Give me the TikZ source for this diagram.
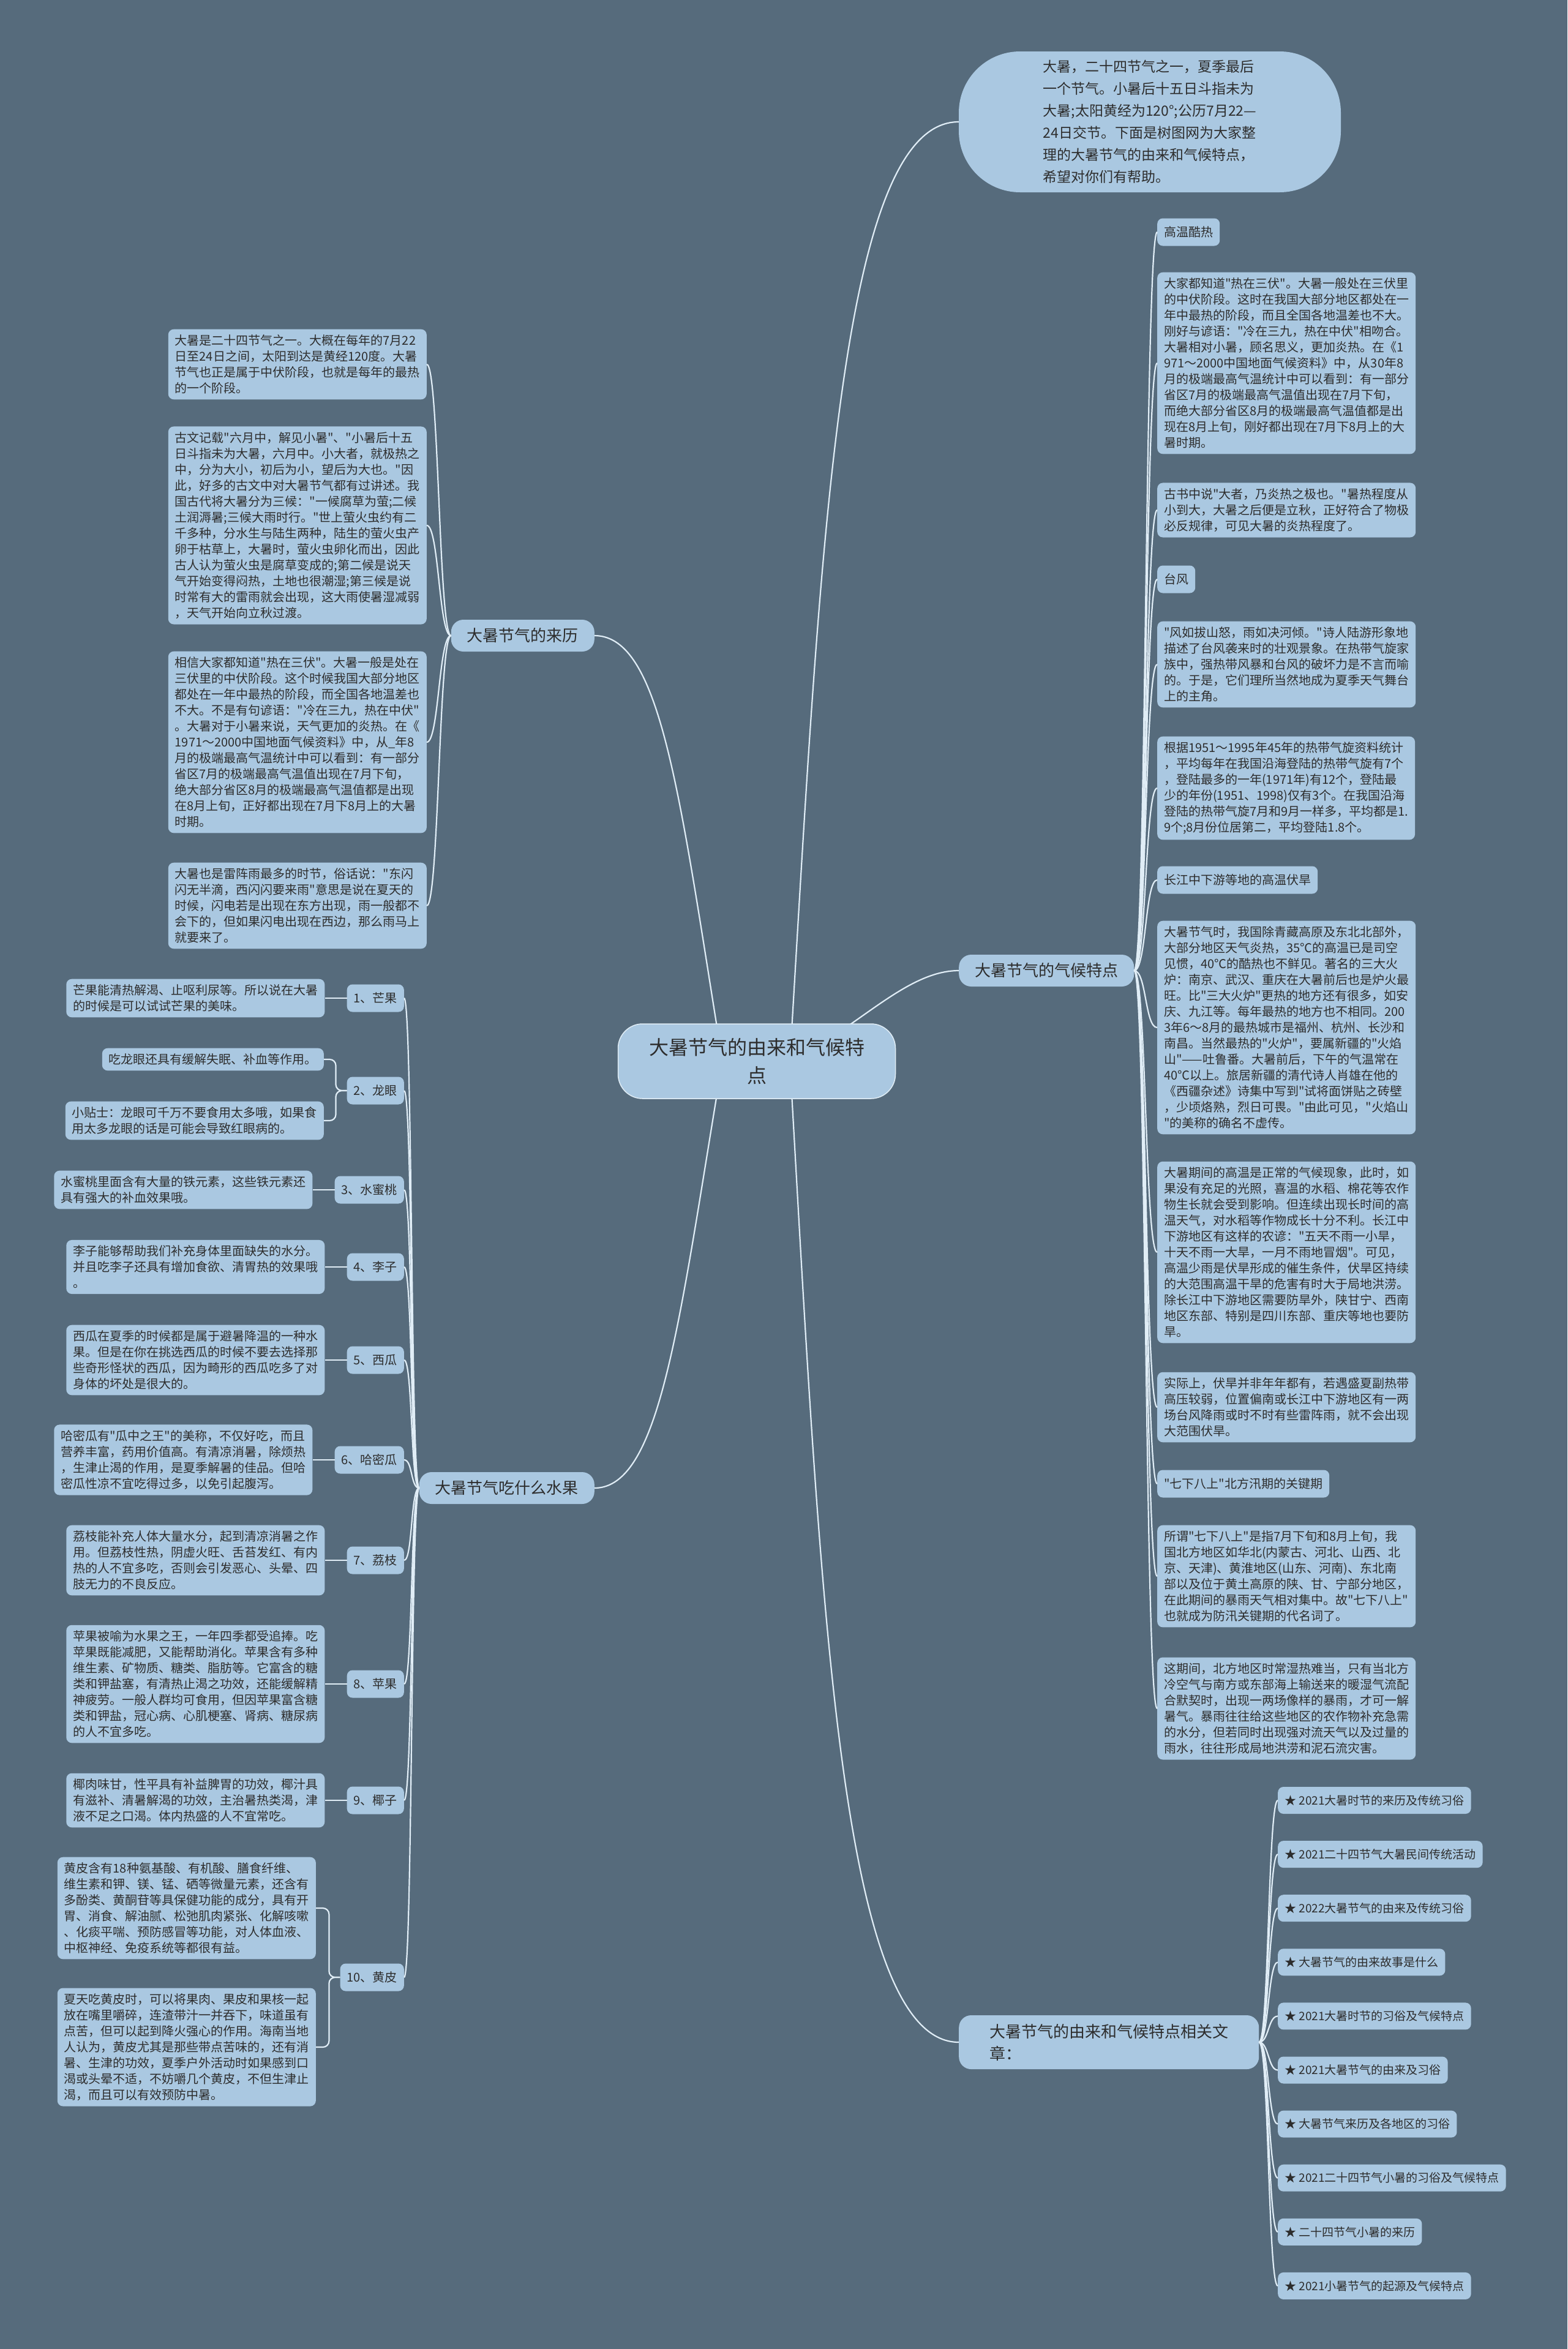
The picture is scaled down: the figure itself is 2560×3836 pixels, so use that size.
\documentclass[tikz,border=0pt]{standalone}
\usepackage{fontspec}
\setmainfont{Noto Sans CJK SC}[Ligatures=TeXOff]
\usetikzlibrary{positioning}
\definecolor{slateBg}{RGB}{86,107,124}
\definecolor{paleBlue}{RGB}{170,200,225}
\definecolor{inkGray}{RGB}{45,45,45}
\definecolor{linkWhite}{RGB}{224,237,246}

\begin{document}
\begin{tikzpicture}[
        x=1pt, y=-1pt,
        every node/.style={text=inkGray},
        rootbox/.style={rectangle, fill=paleBlue, draw=linkWhite, line width=1.5pt, rounded corners=40pt, minimum width=453pt, minimum height=122pt, align=center, font=\fontsize{32}{46}\selectfont},
        intro/.style={rectangle, fill=paleBlue, rounded corners=100pt, minimum width=624pt, minimum height=230pt, align=left, font=\fontsize{23}{36}\selectfont},
        branch/.style={rectangle, fill=paleBlue, rounded corners=20pt, inner xsep=26pt, minimum height=52pt, align=left, font=\fontsize{26}{36}\selectfont},
        note/.style={rectangle, fill=paleBlue, rounded corners=9pt, inner xsep=11pt, inner ysep=9pt, align=left, font=\fontsize{20}{26}\selectfont},
        fruittag/.style={note, minimum height=45pt, inner ysep=4pt},
        artitem/.style={note, minimum height=44pt, inner ysep=4pt, font=\fontsize{19}{24}\selectfont},
        link/.style={draw=linkWhite, line width=2.2pt}
    ]
        \fill[slateBg] (0,0) rectangle (2560,3836);
        \useasboundingbox (0,0) rectangle (2560,3836);

        % main branches
        \node[intro] (intro) at (1878,199) {大暑，二十四节气之一，夏季最后\\一个节气。小暑后十五日斗指未为\\大暑;太阳黄经为120°;公历7月22—\\24日交节。下面是树图网为大家整\\理的大暑节气的由来和气候特点，\\希望对你们有帮助。};
        \node[branch, anchor=east] (origin) at (971,1038) {大暑节气的来历};
        \node[branch, anchor=east] (fruits) at (971,2430) {大暑节气吃什么水果};
        \node[branch, anchor=west] (climate) at (1566,1585) {大暑节气的气候特点};
        \node[branch, anchor=west, inner xsep=50pt, inner ysep=14pt] (related) at (1566,3335) {大暑节气的由来和气候特点相关文\\章：};

        % origin notes
        \node[note, anchor=east] (oriA) at (697,595) {大暑是二十四节气之一。大概在每年的7月22\\日至24日之间，太阳到达是黄经120度。大暑\\节气也正是属于中伏阶段，也就是每年的最热\\的一个阶段。};
        \node[note, anchor=east] (oriB) at (697,858) {古文记载"六月中，解见小暑"、"小暑后十五\\日斗指未为大暑，六月中。小大者，就极热之\\中，分为大小，初后为小，望后为大也。"因\\此，好多的古文中对大暑节气都有过讲述。我\\国古代将大暑分为三候："一候腐草为萤;二候\\土润溽暑;三候大雨时行。"世上萤火虫约有二\\千多种，分水生与陆生两种，陆生的萤火虫产\\卵于枯草上，大暑时，萤火虫卵化而出，因此\\古人认为萤火虫是腐草变成的;第二候是说天\\气开始变得闷热，土地也很潮湿;第三候是说\\时常有大的雷雨就会出现，这大雨使暑湿减弱\\，天气开始向立秋过渡。};
        \node[note, anchor=east] (oriC) at (697,1212) {相信大家都知道"热在三伏"。大暑一般是处在\\三伏里的中伏阶段。这个时候我国大部分地区\\都处在一年中最热的阶段，而全国各地温差也\\不大。不是有句谚语："冷在三九，热在中伏"\\。大暑对于小暑来说，天气更加的炎热。在《\\1971～2000中国地面气候资料》中，从\_年8\\月的极端最高气温统计中可以看到：有一部分\\省区7月的极端最高气温值出现在7月下旬，\\绝大部分省区8月的极端最高气温值都是出现\\在8月上旬，正好都出现在7月下8月上的大暑\\时期。};
        \node[note, anchor=east] (oriD) at (697,1479) {大暑也是雷阵雨最多的时节，俗话说："东闪\\闪无半滴，西闪闪要来雨"意思是说在夏天的\\时候，闪电若是出现在东方出现，雨一般都不\\会下的，但如果闪电出现在西边，那么雨马上\\就要来了。};

        % fruits
        \node[fruittag, anchor=east] (mango) at (660,1630) {1、芒果};
        \node[note, left=36pt of mango] (mangoTxt) {芒果能清热解渴、止呕利尿等。所以说在大暑\\的时候是可以试试芒果的美味。};
        \node[fruittag, anchor=east] (longan) at (660,1781) {2、龙眼};
        \node[note, anchor=east] (longanTxtA) at (529,1730) {吃龙眼还具有缓解失眠、补血等作用。};
        \node[note, anchor=east] (longanTxtB) at (529,1830) {小贴士：龙眼可千万不要食用太多哦，如果食\\用太多龙眼的话是可能会导致红眼病的。};
        \node[fruittag, anchor=east] (peach) at (660,1943) {3、水蜜桃};
        \node[note, left=36pt of peach] (peachTxt) {水蜜桃里面含有大量的铁元素，这些铁元素还\\具有强大的补血效果哦。};
        \node[fruittag, anchor=east] (plum) at (660,2069) {4、李子};
        \node[note, left=36pt of plum] (plumTxt) {李子能够帮助我们补充身体里面缺失的水分。\\并且吃李子还具有增加食欲、清胃热的效果哦\\。};
        \node[fruittag, anchor=east] (melon) at (660,2221) {5、西瓜};
        \node[note, left=36pt of melon] (melonTxt) {西瓜在夏季的时候都是属于避暑降温的一种水\\果。但是在你在挑选西瓜的时候不要去选择那\\些奇形怪状的西瓜，因为畸形的西瓜吃多了对\\身体的坏处是很大的。};
        \node[fruittag, anchor=east] (hami) at (660,2384) {6、哈密瓜};
        \node[note, left=36pt of hami] (hamiTxt) {哈密瓜有"瓜中之王"的美称，不仅好吃，而且\\营养丰富，药用价值高。有清凉消暑，除烦热\\，生津止渴的作用，是夏季解暑的佳品。但哈\\密瓜性凉不宜吃得过多，以免引起腹泻。};
        \node[fruittag, anchor=east] (lychee) at (660,2548) {7、荔枝};
        \node[note, left=36pt of lychee] (lycheeTxt) {荔枝能补充人体大量水分，起到清凉消暑之作\\用。但荔枝性热，阴虚火旺、舌苔发红、有内\\热的人不宜多吃，否则会引发恶心、头晕、四\\肢无力的不良反应。};
        \node[fruittag, anchor=east] (apple) at (660,2750) {8、苹果};
        \node[note, left=36pt of apple] (appleTxt) {苹果被喻为水果之王，一年四季都受追捧。吃\\苹果既能减肥，又能帮助消化。苹果含有多种\\维生素、矿物质、糖类、脂肪等。它富含的糖\\类和钾盐塞，有清热止渴之功效，还能缓解精\\神疲劳。一般人群均可食用，但因苹果富含糖\\类和钾盐，冠心病、心肌梗塞、肾病、糖尿病\\的人不宜多吃。};
        \node[fruittag, anchor=east] (coconut) at (660,2940) {9、椰子};
        \node[note, left=36pt of coconut] (coconutTxt) {椰肉味甘，性平具有补益脾胃的功效，椰汁具\\有滋补、清暑解渴的功效，主治暑热类渴，津\\液不足之口渴。体内热盛的人不宜常吃。};
        \node[fruittag, anchor=east] (wampee) at (660,3229) {10、黄皮};
        \node[note, anchor=east] (wampeeTxtA) at (516,3116) {黄皮含有18种氨基酸、有机酸、膳食纤维、\\维生素和钾、镁、锰、硒等微量元素，还含有\\多酚类、黄酮苷等具保健功能的成分，具有开\\胃、消食、解油腻、松弛肌肉紧张、化解咳嗽\\、化痰平喘、预防感冒等功能，对人体血液、\\中枢神经、免疫系统等都很有益。};
        \node[note, anchor=east] (wampeeTxtB) at (516,3343) {夏天吃黄皮时，可以将果肉、果皮和果核一起\\放在嘴里嚼碎，连渣带汁一并吞下，味道虽有\\点苦，但可以起到降火强心的作用。海南当地\\人认为，黄皮尤其是那些带点苦味的，还有消\\暑、生津的功效，夏季户外活动时如果感到口\\渴或头晕不适，不妨嚼几个黄皮，不但生津止\\渴，而且可以有效预防中暑。};

        % climate notes
        \node[fruittag, anchor=west] (heat) at (1890,379) {高温酷热};
        \node[note, anchor=west] (heatA) at (1890,593) {大家都知道"热在三伏"。大暑一般处在三伏里\\的中伏阶段。这时在我国大部分地区都处在一\\年中最热的阶段，而且全国各地温差也不大。\\刚好与谚语："冷在三九，热在中伏"相吻合。\\大暑相对小暑，顾名思义，更加炎热。在《1\\971～2000中国地面气候资料》中，从30年8\\月的极端最高气温统计中可以看到：有一部分\\省区7月的极端最高气温值出现在7月下旬，\\而绝大部分省区8月的极端最高气温值都是出\\现在8月上旬，刚好都出现在7月下8月上的大\\暑时期。};
        \node[note, anchor=west] (heatB) at (1890,833) {古书中说"大者，乃炎热之极也。"暑热程度从\\小到大，大暑之后便是立秋，正好符合了物极\\必反规律，可见大暑的炎热程度了。};
        \node[fruittag, anchor=west] (typhoon) at (1890,946) {台风};
        \node[note, anchor=west] (typhoonA) at (1890,1085) {"风如拔山怒，雨如决河倾。"诗人陆游形象地\\描述了台风袭来时的壮观景象。在热带气旋家\\族中，强热带风暴和台风的破坏力是不言而喻\\的。于是，它们理所当然地成为夏季天气舞台\\上的主角。};
        \node[note, anchor=west] (typhoonB) at (1890,1287) {根据1951～1995年45年的热带气旋资料统计\\，平均每年在我国沿海登陆的热带气旋有7个\\，登陆最多的一年(1971年)有12个，登陆最\\少的年份(1951、1998)仅有3个。在我国沿海\\登陆的热带气旋7月和9月一样多，平均都是1.\\9个;8月份位居第二，平均登陆1.8个。};
        \node[fruittag, anchor=west] (drought) at (1890,1437) {长江中下游等地的高温伏旱};
        \node[note, anchor=west] (droughtA) at (1890,1678) {大暑节气时，我国除青藏高原及东北北部外，\\大部分地区天气炎热，35℃的高温已是司空\\见惯，40℃的酷热也不鲜见。著名的三大火\\炉：南京、武汉、重庆在大暑前后也是炉火最\\旺。比"三大火炉"更热的地方还有很多，如安\\庆、九江等。每年最热的地方也不相同。200\\3年6～8月的最热城市是福州、杭州、长沙和\\南昌。当然最热的"火炉"，要属新疆的"火焰\\山"——吐鲁番。大暑前后，下午的气温常在\\40℃以上。旅居新疆的清代诗人肖雄在他的\\《西疆杂述》诗集中写到"试将面饼贴之砖壁\\，少顷烙熟，烈日可畏。"由此可见，"火焰山\\"的美称的确名不虚传。};
        \node[note, anchor=west] (droughtB) at (1890,2045) {大暑期间的高温是正常的气候现象，此时，如\\果没有充足的光照，喜温的水稻、棉花等农作\\物生长就会受到影响。但连续出现长时间的高\\温天气，对水稻等作物成长十分不利。长江中\\下游地区有这样的农谚："五天不雨一小旱，\\十天不雨一大旱，一月不雨地冒烟"。可见，\\高温少雨是伏旱形成的催生条件，伏旱区持续\\的大范围高温干旱的危害有时大于局地洪涝。\\除长江中下游地区需要防旱外，陕甘宁、西南\\地区东部、特别是四川东部、重庆等地也要防\\旱。};
        \node[note, anchor=west] (droughtC) at (1890,2298) {实际上，伏旱并非年年都有，若遇盛夏副热带\\高压较弱，位置偏南或长江中下游地区有一两\\场台风降雨或时不时有些雷阵雨，就不会出现\\大范围伏旱。};
        \node[fruittag, anchor=west] (flood) at (1890,2423) {"七下八上"北方汛期的关键期};
        \node[note, anchor=west] (floodA) at (1890,2574) {所谓"七下八上"是指7月下旬和8月上旬，我\\国北方地区如华北(内蒙古、河北、山西、北\\京、天津)、黄淮地区(山东、河南)、东北南\\部以及位于黄土高原的陕、甘、宁部分地区，\\在此期间的暴雨天气相对集中。故"七下八上"\\也就成为防汛关键期的代名词了。};
        \node[note, anchor=west] (floodB) at (1890,2790) {这期间，北方地区时常湿热难当，只有当北方\\冷空气与南方或东部海上输送来的暖湿气流配\\合默契时，出现一两场像样的暴雨，才可一解\\暑气。暴雨往往给这些地区的农作物补充急需\\的水分，但若同时出现强对流天气以及过量的\\雨水，往往形成局地洪涝和泥石流灾害。};

        % related articles
        \node[artitem, anchor=west] (art1) at (2087,2940) {★ 2021大暑时节的来历及传统习俗};
        \node[artitem, below=43.7pt of art1.south west, anchor=north west] (art2) {★ 2021二十四节气大暑民间传统活动};
        \node[artitem, below=43.7pt of art2.south west, anchor=north west] (art3) {★ 2022大暑节气的由来及传统习俗};
        \node[artitem, below=43.7pt of art3.south west, anchor=north west] (art4) {★ 大暑节气的由来故事是什么};
        \node[artitem, below=43.7pt of art4.south west, anchor=north west] (art5) {★ 2021大暑时节的习俗及气候特点};
        \node[artitem, below=43.7pt of art5.south west, anchor=north west] (art6) {★ 2021大暑节气的由来及习俗};
        \node[artitem, below=43.7pt of art6.south west, anchor=north west] (art7) {★ 大暑节气来历及各地区的习俗};
        \node[artitem, below=43.7pt of art7.south west, anchor=north west] (art8) {★ 2021二十四节气小暑的习俗及气候特点};
        \node[artitem, below=43.7pt of art8.south west, anchor=north west] (art9) {★ 二十四节气小暑的来历};
        \node[artitem, below=43.7pt of art9.south west, anchor=north west] (art10) {★ 2021小暑节气的起源及气候特点};

        % connectors
        \coordinate (rootL) at (1180,1733);
        \coordinate (rootR) at (1290,1733);
        \draw[link] (rootR) .. controls (1340,900) and (1370,199) .. (intro.west);
        \draw[link] (rootR) .. controls (1400,1680) and (1480,1585) .. (climate.west);
        \draw[link] (rootR) .. controls (1340,2600) and (1370,3335) .. (related.west);
        \draw[link] (rootL) .. controls (1110,1300) and (1080,1038) .. (origin.east);
        \draw[link] (rootL) .. controls (1110,2150) and (1080,2430) .. (fruits.east);

        \draw[link] (origin.west) .. controls +(-20,0) and +(20,0) .. (oriA.east);
        \draw[link] (origin.west) .. controls +(-20,0) and +(20,0) .. (oriB.east);
        \draw[link] (origin.west) .. controls +(-20,0) and +(20,0) .. (oriC.east);
        \draw[link] (origin.west) .. controls +(-20,0) and +(20,0) .. (oriD.east);

        \draw[link] (fruits.west) .. controls +(-14,0) and +(14,0) .. (mango.east);
        \draw[link] (fruits.west) .. controls +(-14,0) and +(14,0) .. (longan.east);
        \draw[link] (fruits.west) .. controls +(-14,0) and +(14,0) .. (peach.east);
        \draw[link] (fruits.west) .. controls +(-14,0) and +(14,0) .. (plum.east);
        \draw[link] (fruits.west) .. controls +(-14,0) and +(14,0) .. (melon.east);
        \draw[link] (fruits.west) .. controls +(-14,0) and +(14,0) .. (hami.east);
        \draw[link] (fruits.west) .. controls +(-14,0) and +(14,0) .. (lychee.east);
        \draw[link] (fruits.west) .. controls +(-14,0) and +(14,0) .. (apple.east);
        \draw[link] (fruits.west) .. controls +(-14,0) and +(14,0) .. (coconut.east);
        \draw[link] (fruits.west) .. controls +(-14,0) and +(14,0) .. (wampee.east);

        \draw[link] (mango) -- (mangoTxt);
        \draw[link, rounded corners=10pt] (longan.west) -- ++(-18,0) |- (longanTxtA.east);
        \draw[link, rounded corners=10pt] (longan.west) -- ++(-18,0) |- (longanTxtB.east);
        \draw[link] (peach) -- (peachTxt);
        \draw[link] (plum) -- (plumTxt);
        \draw[link] (melon) -- (melonTxt);
        \draw[link] (hami) -- (hamiTxt);
        \draw[link] (lychee) -- (lycheeTxt);
        \draw[link] (apple) -- (appleTxt);
        \draw[link] (coconut) -- (coconutTxt);
        \draw[link, rounded corners=10pt] (wampee.west) -- ++(-18,0) |- (wampeeTxtA.east);
        \draw[link, rounded corners=10pt] (wampee.west) -- ++(-18,0) |- (wampeeTxtB.east);

        \draw[link] (climate.east) .. controls +(20,0) and +(-20,0) .. (heat.west);
        \draw[link] (climate.east) .. controls +(20,0) and +(-20,0) .. (heatA.west);
        \draw[link] (climate.east) .. controls +(20,0) and +(-20,0) .. (heatB.west);
        \draw[link] (climate.east) .. controls +(20,0) and +(-20,0) .. (typhoon.west);
        \draw[link] (climate.east) .. controls +(20,0) and +(-20,0) .. (typhoonA.west);
        \draw[link] (climate.east) .. controls +(20,0) and +(-20,0) .. (typhoonB.west);
        \draw[link] (climate.east) .. controls +(20,0) and +(-20,0) .. (drought.west);
        \draw[link] (climate.east) .. controls +(20,0) and +(-20,0) .. (droughtA.west);
        \draw[link] (climate.east) .. controls +(20,0) and +(-20,0) .. (droughtB.west);
        \draw[link] (climate.east) .. controls +(20,0) and +(-20,0) .. (droughtC.west);
        \draw[link] (climate.east) .. controls +(20,0) and +(-20,0) .. (flood.west);
        \draw[link] (climate.east) .. controls +(20,0) and +(-20,0) .. (floodA.west);
        \draw[link] (climate.east) .. controls +(20,0) and +(-20,0) .. (floodB.west);

        \draw[link] (related.east) .. controls +(16,0) and +(-16,0) .. (art1.west);
        \draw[link] (related.east) .. controls +(16,0) and +(-16,0) .. (art2.west);
        \draw[link] (related.east) .. controls +(16,0) and +(-16,0) .. (art3.west);
        \draw[link] (related.east) .. controls +(16,0) and +(-16,0) .. (art4.west);
        \draw[link] (related.east) .. controls +(16,0) and +(-16,0) .. (art5.west);
        \draw[link] (related.east) .. controls +(16,0) and +(-16,0) .. (art6.west);
        \draw[link] (related.east) .. controls +(16,0) and +(-16,0) .. (art7.west);
        \draw[link] (related.east) .. controls +(16,0) and +(-16,0) .. (art8.west);
        \draw[link] (related.east) .. controls +(16,0) and +(-16,0) .. (art9.west);
        \draw[link] (related.east) .. controls +(16,0) and +(-16,0) .. (art10.west);

        % root on top of its links
        \node[rootbox] (root) at (1236,1733) {大暑节气的由来和气候特\\点};
    \end{tikzpicture}
\end{document}
